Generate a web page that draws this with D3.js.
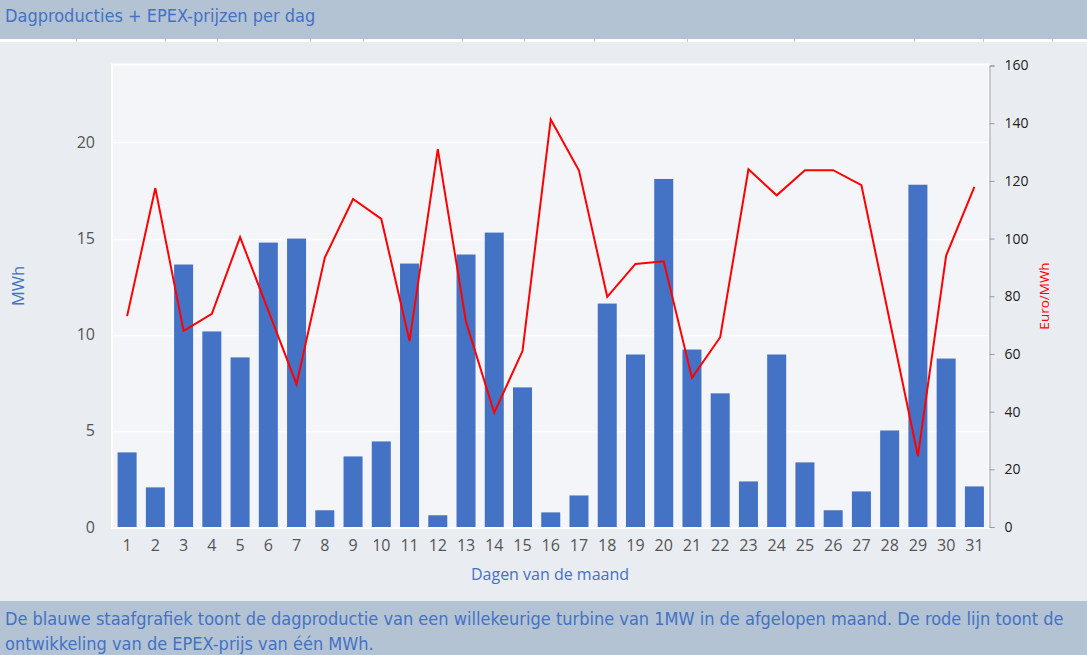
<!DOCTYPE html>
<html><head><meta charset="utf-8">
<script src="https://cdn.jsdelivr.net/npm/d3@7/dist/d3.min.js"></script>
<style>
html,body{margin:0;padding:0;background:#e9ecf1;}
svg{display:block;}
</style></head>
<body>
<svg id="c" width="1087" height="655"></svg>
<script>
const days = d3.range(1, 32).map(String);
const production = [3.88,2.06,13.65,10.17,8.82,14.79,15.0,0.87,3.67,4.45,13.7,0.61,14.17,15.31,7.26,0.76,1.64,11.62,8.97,18.1,9.23,6.95,2.37,8.97,3.36,0.87,1.85,5.02,17.8,8.76,2.11];
const prices = [73.1,117.5,68.0,73.9,100.5,75.0,49.5,93.4,113.7,106.8,64.5,131.0,71.1,39.6,61.0,141.3,123.6,79.8,91.2,92.1,51.7,65.8,124.0,115.0,123.7,123.7,118.5,71.6,24.6,94.1,117.9];
const leftTicks = [0,5,10,15,20];
const rightTicks = [0,20,40,60,80,100,120,140,160];
const title = "Dagproducties + EPEX-prijzen per dag";
const footerLines = ["De blauwe staafgrafiek toont de dagproductie van een willekeurige turbine van 1MW in de afgelopen maand. De rode lijn toont de","ontwikkeling van de EPEX-prijs van één MWh."];
const leftLabel = "MWh", rightLabel = "Euro/MWh", xLabel = "Dagen van de maand";
const stripDividers = [76,165,217,310,363,462,524,594,687,794,914,983,1052];

const W = 1087, H = 655;
const svg = d3.select("#c");
const blue = "#4472c4", headerBg = "#b3c3d4";
const narrow = "'Liberation Sans Narrow','DejaVu Sans Condensed','Arial Narrow',sans-serif";
const sans = "'Open Sans',sans-serif";

// background
svg.append("rect").attr("width", W).attr("height", H).attr("fill", "#e9ecf1");
// header
svg.append("rect").attr("x",0).attr("y",0).attr("width",W).attr("height",39).attr("fill",headerBg);
svg.append("text").attr("x",5).attr("y",22).attr("fill",blue).attr("font-family",narrow)
  .attr("font-size",18).text(title);
// strip under header
svg.append("rect").attr("x",0).attr("y",39).attr("width",W).attr("height",3).attr("fill","#ffffff");
svg.selectAll("line.strip").data(stripDividers).join("line").attr("class","strip")
  .attr("x1",d=>d+0.5).attr("x2",d=>d+0.5).attr("y1",39).attr("y2",42).attr("stroke","#c9ced6");

// plot area
const m = {l:113, r:988.5, t:65.5, b:527};
svg.append("rect").attr("x",m.l-1).attr("y",m.t-1).attr("width",m.r-m.l+2).attr("height",m.b-m.t+2)
  .attr("fill","#f4f5f9").attr("stroke","#ffffff").attr("stroke-width",2);

const x = d3.scaleBand().domain(days).range([m.l, m.r]).paddingInner(0.327).paddingOuter(0.163);
const yL = d3.scaleLinear().domain([0,24]).range([m.b, m.t]);
const yR = d3.scaleLinear().domain([0,160]).range([m.b, m.t]);

// gridlines
svg.selectAll("line.grid").data(leftTicks.filter(d=>d>0)).join("line").attr("class","grid")
  .attr("x1",m.l).attr("x2",m.r).attr("y1",d=>Math.round(yL(d))+0.5).attr("y2",d=>Math.round(yL(d))+0.5)
  .attr("stroke","#ffffff").attr("stroke-width",1.5);

// bars
svg.selectAll("rect.bar").data(production).join("rect").attr("class","bar")
  .attr("x",(d,i)=>x(days[i])).attr("width",x.bandwidth())
  .attr("y",d=>yL(d)).attr("height",d=>m.b-yL(d)).attr("fill",blue);

// line
const line = d3.line().x((d,i)=>x(days[i])+x.bandwidth()/2).y(d=>yR(d));
svg.append("path").datum(prices).attr("d",line).attr("fill","none").attr("stroke","#ff0000")
  .attr("stroke-width",2).attr("stroke-linejoin","miter");

// left axis
const gL = svg.append("g").attr("transform",`translate(${m.l},0)`)
  .call(d3.axisLeft(yL).tickValues(leftTicks).tickSize(0).tickPadding(18));
gL.select(".domain").remove();
gL.selectAll("text").attr("font-family",sans).attr("font-size",16).attr("fill","#555");

// right axis
const gR = svg.append("g").attr("transform",`translate(989.5,0)`)
  .call(d3.axisRight(yR).tickValues(rightTicks).tickSize(5).tickSizeOuter(5).tickPadding(10));
gR.select(".domain").attr("stroke","#999");
gR.selectAll(".tick line").attr("stroke","#999");
gR.selectAll("text").attr("font-family",sans).attr("font-size",14).attr("fill","#222");

// x axis
const gX = svg.append("g").attr("transform",`translate(0,${m.b})`)
  .call(d3.axisBottom(x).tickSize(0).tickPadding(13));
gX.select(".domain").remove();
gX.selectAll("text").attr("font-family",sans).attr("font-size",16).attr("fill","#555");

// axis titles
svg.append("text").attr("transform","translate(24,286) rotate(-90)").attr("text-anchor","middle")
  .attr("font-family",sans).attr("font-size",16.5).attr("fill",blue).text(leftLabel);
svg.append("text").attr("transform","translate(1049,296) rotate(-90)").attr("text-anchor","middle")
  .attr("font-family",sans).attr("font-size",13.5).attr("fill","#ff0000").text(rightLabel);
svg.append("text").attr("x",550).attr("y",580).attr("text-anchor","middle")
  .attr("font-family",sans).attr("font-size",16).attr("fill",blue).text(xLabel);

// footer
svg.append("rect").attr("x",0).attr("y",601).attr("width",W).attr("height",H-601).attr("fill",headerBg);
svg.selectAll("text.foot").data(footerLines).join("text").attr("class","foot")
  .attr("x",5).attr("y",(d,i)=>625+i*25).attr("fill",blue).attr("font-family",narrow)
  .attr("font-size",18).text(d=>d);
</script>
</body></html>
